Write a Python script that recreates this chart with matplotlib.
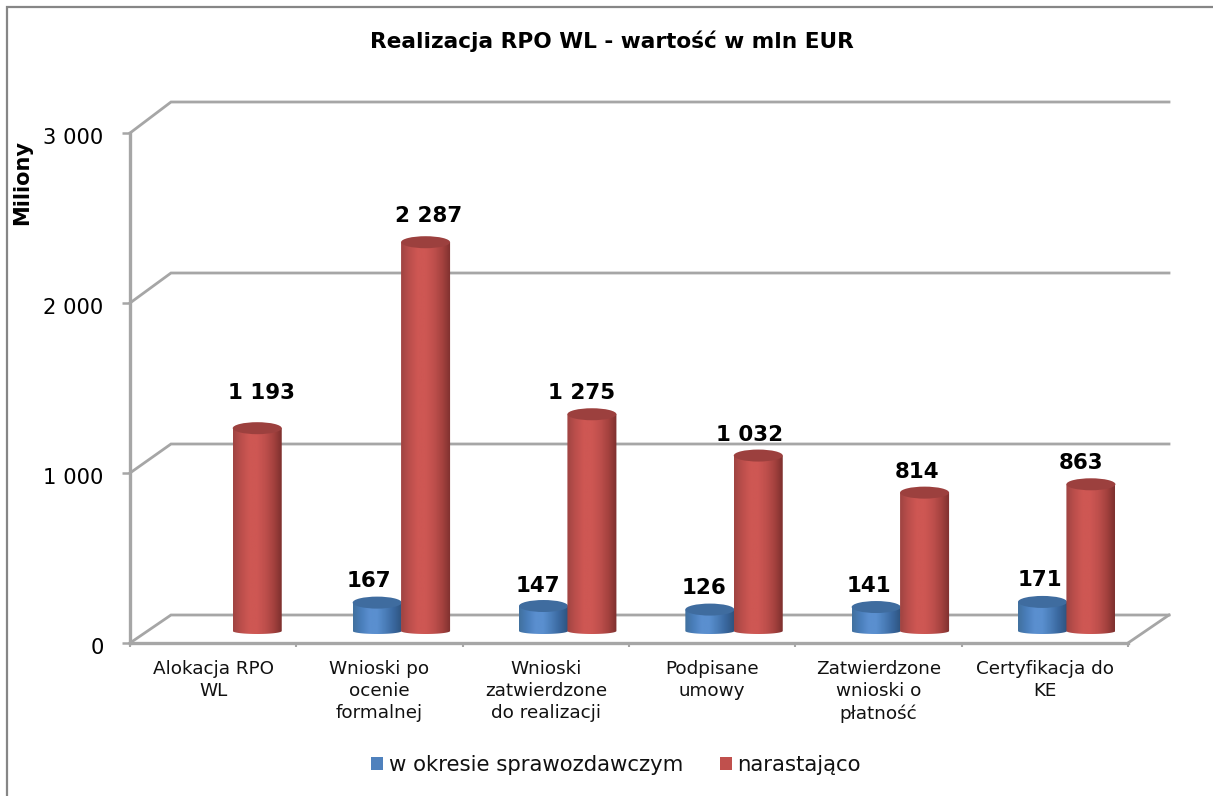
import numpy as np
import matplotlib
matplotlib.use("Agg")
import matplotlib.pyplot as plt
from matplotlib.colors import LinearSegmentedColormap
from matplotlib.patches import Ellipse, Rectangle, PathPatch
from matplotlib.path import Path
from matplotlib.transforms import Affine2D

categories = ["Alokacja RPO\nWL", "Wnioski po\nocenie\nformalnej", "Wnioski\nzatwierdzone\ndo realizacji",
              "Podpisane\numowy", "Zatwierdzone\nwnioski o\npłatność", "Certyfikacja do\nKE"]
period = [None, 167, 147, 126, 141, 171]
cumulative = [1193, 2287, 1275, 1032, 814, 863]
period_labels = [None, "167", "147", "126", "141", "171"]
cumulative_labels = ["1 193", "2 287", "1 275", "1 032", "814", "863"]
yticks = [0, 1000, 2000, 3000]
yticklabels = ["0", "1 000", "2 000", "3 000"]

W, H = 1213, 796
fig = plt.figure(figsize=(W / 100, H / 100), dpi=100, facecolor="white")
ax = fig.add_axes([130 / W, (H - 643) / H, 998 / W, 510 / H])
ax.set_xlim(0, 6)
ax.set_ylim(0, 3000)
ax.patch.set_alpha(0)

# figure frame
fig.add_artist(Rectangle((7 / W, -0.01), (W - 7) / W + 0.01, (H - 7) / H + 0.01, transform=fig.transFigure,
                         fill=False, ec="#868686", lw=1.6))

PX = 6 / 998      # data per px horizontally
PY = 3000 / 510   # data per px vertically
GRID = "#A6A6A6"
LW = 2.0

def depth(v):
    return 41 * PX, (28 + v * 0.001) * PY

for v in yticks:
    dx, dy = depth(v)
    ax.plot([0, dx, 6 + dx], [v, v + dy, v + dy], color=GRID, lw=LW, solid_joinstyle="miter", clip_on=False, zorder=1)
dx, dy = depth(0)
ax.plot([6, 6 + dx], [0, dy], color=GRID, lw=LW, clip_on=False, zorder=1)

for s in ("top", "right"):
    ax.spines[s].set_visible(False)
for s in ("left", "bottom"):
    ax.spines[s].set_color(GRID)
    ax.spines[s].set_linewidth(2.4)
    ax.spines[s].set_zorder(1.5)

ax.set_yticks(yticks)
ax.set_yticklabels(yticklabels, fontsize=15.2, color="black")
ax.tick_params(axis="y", length=6, width=1.8, color=GRID, pad=13)
for lab in ax.get_yticklabels():
    lab.set_transform(lab.get_transform() + Affine2D().translate(0, -3))
ax.set_xticks(range(7))
ax.set_xticklabels([])
ax.tick_params(axis="x", length=3, width=1.5, color=GRID)
for i, c in enumerate(categories):
    ax.text(i + 0.5, -0.034, c, transform=ax.get_xaxis_transform(), ha="center", va="top",
            fontsize=13.2, linespacing=1.29, color="#111111")

ax.text(-0.108, 0.903, "Miliony", transform=ax.transAxes, rotation=90, ha="center", va="center",
        fontsize=15, fontweight="bold")
fig.text(612 / W, 1 - 41 / H, "Realizacja RPO WL - wartość w mln EUR", ha="center", va="center",
         fontsize=15.6, fontweight="bold")

blue_cm = LinearSegmentedColormap.from_list("b", ["#41719F", "#4A7EBB", "#5A8FCF", "#5A8FCF", "#4A7DB8", "#3A689F", "#2E5480"])
red_cm = LinearSegmentedColormap.from_list("r", ["#A04442", "#BC4F4C", "#CE5753", "#CE5753", "#BE4F4C", "#A5423F", "#7E302E"])
grad = np.linspace(0, 1, 64)[None, :]

bar_w = 49 * PX
base = 12 * PY
rise = 12 * PY
ell_h = 12 * PY
foot_h = 6 * PY

def cylinder(x, value, cmap, top_color, zorder):
    bars = ax.bar([x], [value + rise - base], bar_w, bottom=base, color="none", zorder=zorder)
    r = bars[0]
    x0, y0, w, h = r.get_x(), r.get_y(), r.get_width(), r.get_height()
    im = ax.imshow(grad, extent=[x0, x0 + w, y0 - foot_h / 2, y0 + h], cmap=cmap, aspect="auto", zorder=zorder, interpolation="bilinear")
    t = np.linspace(np.pi, 2 * np.pi, 40)
    xs = x0 + w / 2 + w / 2 * np.cos(t)
    ys = y0 + foot_h / 2 * np.sin(t)
    verts = list(zip(xs, ys)) + [(x0 + w, y0 + h), (x0, y0 + h), (xs[0], ys[0])]
    im.set_clip_path(PathPatch(Path(verts), transform=ax.transData))
    ax.add_patch(Ellipse((x0 + w / 2, y0 + h), w, ell_h, fc=top_color, ec="none", zorder=zorder + 0.1))

xc = np.arange(6) + 0.5
red_shift = [-2, 0, 0, 0, 0, 0]
for i in range(6):
    if period[i] is not None:
        cylinder(xc[i] - 0.014, period[i], blue_cm, "#3F6C9F", 3 + i * 0.01)
for i in range(6):
    cylinder(xc[i] + 0.277 + red_shift[i] * PX, cumulative[i], red_cm, "#9C403E", 4 + i * 0.01)
ax.set_xlim(0, 6)
ax.set_ylim(0, 3000)

# hand-placed data labels: offset from the bar top in px
period_off = [None, (-8, 34), (-6, 32), (-6, 34), (-7, 33), (-3, 34)]
cumulative_off = [(2, 47), (3, 38), (-10, 33), (-9, 33), (-8, 33), (-10, 33)]
for i in range(6):
    if period[i] is not None:
        ax.annotate(period_labels[i], (xc[i] - 0.014, period[i]), xytext=period_off[i], textcoords="offset pixels",
                    ha="center", va="center", fontsize=15.4, fontweight="bold", zorder=6)
    ax.annotate(cumulative_labels[i], (xc[i] + 0.277, cumulative[i]), xytext=cumulative_off[i], textcoords="offset pixels",
                ha="center", va="center", fontsize=15.4, fontweight="bold", zorder=6)

handles = [Rectangle((0, 0), 1, 1, fc="#4F81BD"), Rectangle((0, 0), 1, 1, fc="#C0504D")]
fig.legend(handles, ["w okresie sprawozdawczym", "narastająco"], loc="center", bbox_to_anchor=(616 / W, 1 - 765 / H),
           ncol=2, frameon=False, fontsize=15.3, handlelength=0.57, handleheight=0.57, handletextpad=0.25,
           columnspacing=1.75, labelcolor="#111111")

fig.savefig("out.png", dpi=100)
